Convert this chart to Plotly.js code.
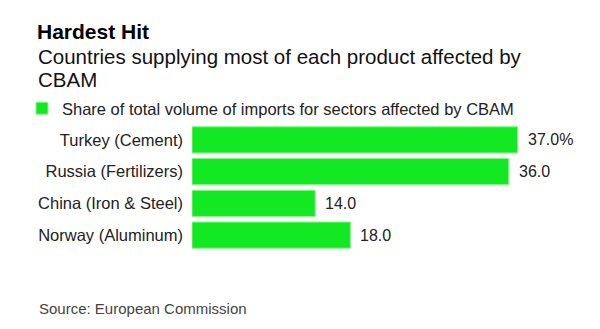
<!DOCTYPE html>
<html>
<head>
<meta charset="utf-8">
<script src="https://cdn.plot.ly/plotly-3.0.1.min.js"></script>
<style>html,body{margin:0;padding:0;background:#fff}#chart{width:600px;height:329px}</style>
</head>
<body>
<div id="chart"></div>
<script>
const categories = ["Turkey (Cement)", "Russia (Fertilizers)", "China (Iron & Steel)", "Norway (Aluminum)"];
const shares = [37.0, 36.0, 14.0, 18.0];
const seriesName = "Share of total volume of imports for sectors affected by CBAM";
const titleText = "Hardest Hit";
const subtitleLines = ["Countries supplying most of each product affected by", "CBAM"];
const sourceText = "Source: European Commission";

const W = 600, H = 329;
const M = {l: 192, r: 56, t: 124, b: 78};
const pw = W - M.l - M.r, ph = H - M.t - M.b;
const px = x => (x - M.l) / pw;
const py = y => (H - M.b - y) / ph;

const FONT = "Liberation Sans, Arial, Helvetica, sans-serif";
const GREEN = "#13e922";

const valueLabels = shares.map((v, i) => i === 0 ? v.toFixed(1) + "%" : v.toFixed(1));

const trace = {
  type: "bar",
  orientation: "h",
  y: categories,
  x: shares,
  name: seriesName,
  marker: {color: GREEN, line: {color: "#8cf58f", width: 1}},
  hoverinfo: "none",
  showlegend: true
};

const annotations = [];
// line pitch is 1.3em of the base size (~23px); glyphs drawn at 20.5px
annotations.push({xref: "paper", yref: "paper", x: px(36), y: py(43), xanchor: "left", yanchor: "top",
  text: subtitleLines.map(t => '<span style="font-size:20.5px">' + t + '</span>').join("<br>"),
  showarrow: false, align: "left",
  font: {family: FONT, size: 17.8, color: "#111"}});
annotations.push({xref: "paper", yref: "paper", x: px(37), y: py(298), xanchor: "left", yanchor: "top",
  text: sourceText, showarrow: false, align: "left",
  font: {family: FONT, size: 15, color: "#444"}});
categories.forEach((c, i) => {
  annotations.push({xref: "x", yref: "y", x: shares[i], y: c, xanchor: "left", yanchor: "middle",
    xshift: 8, text: valueLabels[i], showarrow: false,
    font: {family: FONT, size: 16, color: "#222"}});
});

const layout = {
  width: W, height: H,
  margin: M,
  paper_bgcolor: "#fff", plot_bgcolor: "#fff",
  font: {family: FONT, color: "#222"},
  title: {text: "<b>" + titleText + "</b>", xref: "container", yref: "container",
    x: 37 / W, xanchor: "left", y: 1 - 32 / H, yanchor: "middle",
    font: {family: FONT, size: 21, color: "#000"}},
  bargap: 0.175,
  xaxis: {range: [0, 40], visible: false, fixedrange: true},
  yaxis: {autorange: "reversed", showgrid: false, zeroline: false, showline: false,
    ticks: "", ticklabelstandoff: 8, tickfont: {family: FONT, size: 16.5, color: "#222"}, fixedrange: true},
  showlegend: true,
  legend: {orientation: "h", x: px(22), y: py(91), xanchor: "left", yanchor: "top",
    font: {family: FONT, size: 16.5, color: "#222"}, bgcolor: "rgba(0,0,0,0)"},
  annotations: annotations
};

Plotly.newPlot("chart", [trace], layout, {displayModeBar: false, staticPlot: true});
</script>
</body>
</html>
